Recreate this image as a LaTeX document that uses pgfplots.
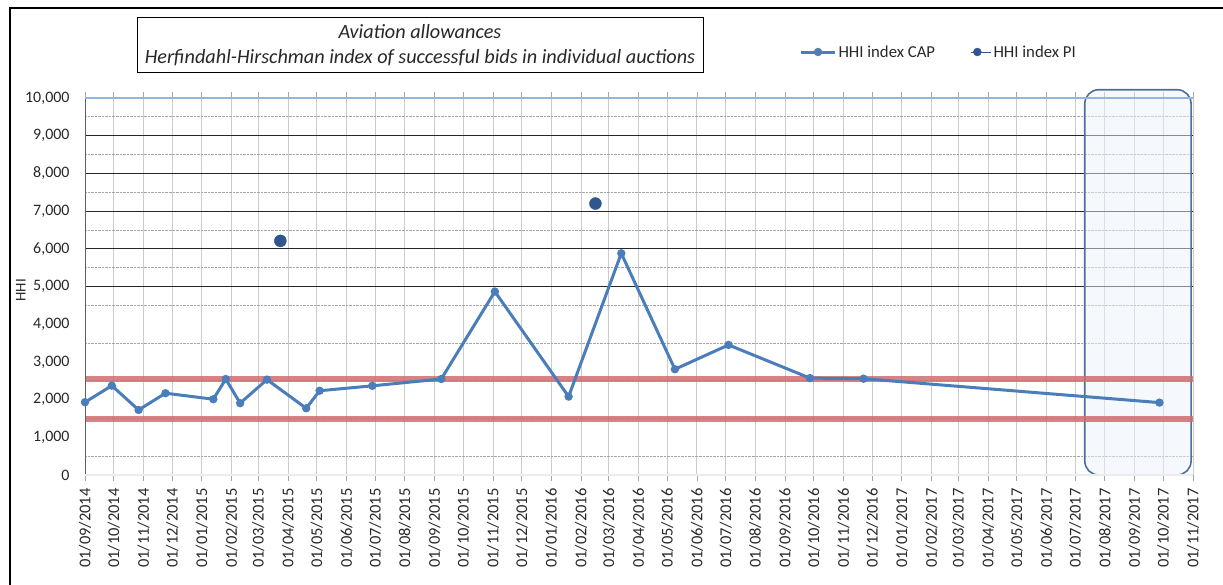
\documentclass[border=0pt]{standalone}
\usepackage{fontspec}
\setmainfont{Carlito}
\usepackage{pgfplots}
\pgfplotsset{compat=1.18}
\pgfplotsset{longlegend/.style={legend image code/.code={\draw[mark repeat=2,mark phase=2,##1] plot coordinates {(0bp,0bp) (17bp,0bp) (34bp,0bp)};}}}
\pgfplotsset{pilegend/.style={legend image code/.code={\path (-6bp,0bp) -- (14bp,0bp); \draw[##1, mark size=4bp] plot coordinates {(0bp,0bp)};}}}
\definecolor{capblue}{RGB}{74,126,187}
\definecolor{piblue}{RGB}{47,87,140}
\definecolor{redline}{RGB}{205,110,110}
\definecolor{boxfill}{RGB}{236,241,249}
\definecolor{boxdraw}{RGB}{79,110,155}
\definecolor{topblue}{RGB}{150,180,225}
\definecolor{txt}{RGB}{40,40,40}
\begin{document}
\begin{tikzpicture}
\useasboundingbox (0bp,0bp) rectangle (1223bp,585bp);
\draw[line width=1.8bp] (10bp,0bp) -- (10bp,577bp) -- (1223bp,577bp);
\draw[line width=1bp, fill=white] (137bp,512bp) rectangle (703bp,567bp);
\node[align=center, font=\itshape\fontsize{20.3}{25}\selectfont, text=txt] at (420bp,540bp) {Aviation allowances\\Herfindahl-Hirschman index of successful bids in individual auctions};
\begin{axis}[
  at={(85bp,110bp)}, anchor=south west, scale only axis,
  width=1108bp, height=377bp,
  xmin=0, xmax=1157, ymin=0, ymax=10000,
  clip=false,
  scaled y ticks=false, scaled x ticks=false,
  axis line style={draw=none},
  /pgf/number format/assume math mode=true,
  /pgf/number format/1000 sep={,},
  xtick={0,30,61,91,122,153,181,212,242,273,303,334,365,395,426,456,487,518,547,578,608,639,669,700,731,761,792,822,853,884,912,943,973,1004,1034,1065,1096,1126,1157},
  xticklabels={01/09/2014,01/10/2014,01/11/2014,01/12/2014,01/01/2015,01/02/2015,01/03/2015,01/04/2015,01/05/2015,01/06/2015,01/07/2015,01/08/2015,01/09/2015,01/10/2015,01/11/2015,01/12/2015,01/01/2016,01/02/2016,01/03/2016,01/04/2016,01/05/2016,01/06/2016,01/07/2016,01/08/2016,01/09/2016,01/10/2016,01/11/2016,01/12/2016,01/01/2017,01/02/2017,01/03/2017,01/04/2017,01/05/2017,01/06/2017,01/07/2017,01/08/2017,01/09/2017,01/10/2017,01/11/2017},
  xticklabel style={rotate=90, anchor=east, font=\fontsize{16.5}{16}\selectfont, text=txt, xshift=-4bp},
  tick align=outside,
  major tick length=6bp,
  minor tick length=0bp,
  xtick style={draw=gray!70, line width=0.8bp},
  ytick={0,1000,...,10000},
  ytick style={draw=none},
  yticklabel style={font=\fontsize{16}{16}\selectfont, text=txt, xshift=-6bp},
  xmajorgrids,
  major x grid style={gray!40, line width=0.9bp},
  minor y tick num=1,
  yminorgrids,
  minor y grid style={densely dotted, gray!70, line width=0.7bp},
  extra y ticks={5000,6000,7000,8000,9000},
  extra y tick labels={},
  extra y tick style={grid=major, major grid style={black!85, line width=0.9bp}},
  ylabel={HHI},
  ylabel style={at={(rel axis cs:-0.058,0.49)}, anchor=center, font=\fontsize{15}{15}\selectfont, text=txt},
  legend style={at={(0.642,1.122)}, anchor=west, draw=none, fill=none, legend columns=2,
    font=\fontsize{16.8}{18}\selectfont, text=txt,
    /tikz/every even column/.append style={column sep=34bp}},
]
\draw[boxdraw, line width=1.6bp, fill=boxfill, fill opacity=0.5, rounded corners=14bp] (axis cs:1044,0) rectangle (axis cs:1155,10220);
\addplot[redline, opacity=0.85, line width=5.5bp, forget plot] coordinates {(0,2550) (1157,2550)};
\addplot[redline, opacity=0.85, line width=5.5bp, forget plot] coordinates {(0,1490) (1157,1490)};
\addplot[capblue, line width=3bp, mark=*, mark size=2.6bp, longlegend]
coordinates {
(0,1930) (28,2370) (56,1725) (84,2170) (134,2010) (147,2546) (162,1905) (190,2530) (231,1770) (245,2235) (300,2365) (372,2546) (428,4865) (505,2080) (560,5880) (616,2805) (672,3450) (757,2570) (813,2555) (1122,1920)
};
\addlegendentry{HHI index CAP}
\addplot[only marks, mark=*, mark size=6bp, color=piblue, pilegend] coordinates {(204,6210) (533,7200)};
\addlegendentry{HHI index PI}
\draw[gray!75!black, line width=0.9bp] (rel axis cs:0,0) -- (rel axis cs:0,1);
\draw[gray!15, line width=1.2bp] (rel axis cs:0,0) -- (rel axis cs:1,0);
\draw[topblue, line width=1.3bp] (rel axis cs:0,1) -- (rel axis cs:1,1);
\end{axis}
\end{tikzpicture}
\end{document}
